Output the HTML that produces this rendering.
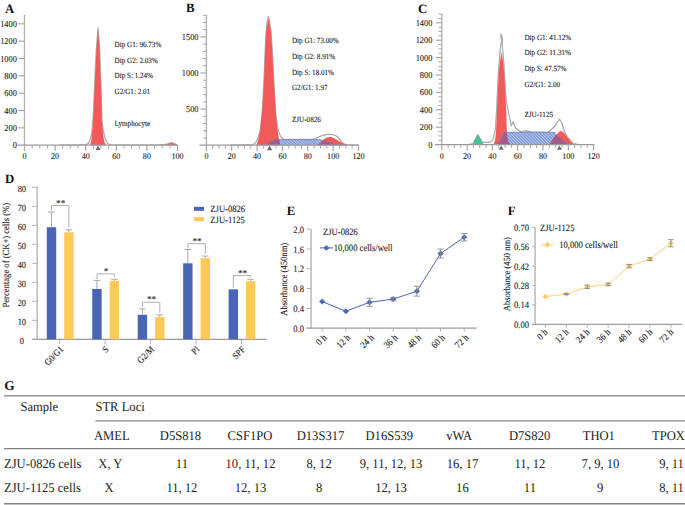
<!DOCTYPE html>
<html><head><meta charset="utf-8"><style>
html,body{margin:0;padding:0;background:#fff;width:685px;height:505px;overflow:hidden}
svg{display:block}
text{font-family:"Liberation Serif", serif; text-rendering:geometricPrecision}
.sm{stroke:#1c1c1c;stroke-width:0.1px}
</style></head><body>
<svg width="685" height="505" viewBox="0 0 685 505">
<rect width="685" height="505" fill="#fff"/>
<defs>
<pattern id="hatch" patternUnits="userSpaceOnUse" width="2.2" height="2.2" patternTransform="rotate(-45)">
<rect width="2.2" height="2.2" fill="#7b93d8"/><rect width="1.0" height="2.2" fill="#bac8f1"/>
</pattern>
<pattern id="hatchp" patternUnits="userSpaceOnUse" width="2.2" height="2.2" patternTransform="rotate(-45)">
<rect width="2.2" height="2.2" fill="#84609e"/><rect width="1.05" height="2.2" fill="#c8587a"/>
</pattern>
</defs>
<text transform="translate(5,12.6) scale(1,1.0)" font-size="12.8" text-anchor="start" font-weight="bold" fill="#111" >A</text>
<text transform="translate(186,12.4) scale(1,1.0)" font-size="12.8" text-anchor="start" font-weight="bold" fill="#111" >B</text>
<text transform="translate(418,13) scale(1,1.0)" font-size="12.8" text-anchor="start" font-weight="bold" fill="#111" >C</text>
<text transform="translate(5,182.6) scale(1,1.0)" font-size="12.8" text-anchor="start" font-weight="bold" fill="#111" >D</text>
<text transform="translate(286.8,215.4) scale(1,1.0)" font-size="12.8" text-anchor="start" font-weight="bold" fill="#111" >E</text>
<text transform="translate(507.8,215.4) scale(1,1.0)" font-size="12.8" text-anchor="start" font-weight="bold" fill="#111" >F</text>
<text transform="translate(4.3,390.2) scale(1,1.0)" font-size="13.3" text-anchor="start" font-weight="bold" fill="#111" >G</text>
<path d="M60,145 L80,144.9 L86.2,144.7 L88.5,143 L90.3,139 L91.8,133 L93,120 L94.2,95 L95.3,70 L96.3,50 L98.1,27.6 L99.7,50 L100.4,70 L101.3,95 L102,120 L103.1,130 L105,138 L107.5,143.4 L110.5,144.8 L130,145 L160,144.8 L166,144.4 L169,143.2 L171.5,142.6 L174,143.4 L177,144.8" fill="none" stroke="#8c8c8c" stroke-width="1.1" stroke-linejoin="round"/>
<path d="M60,145 L80,144.9 L86.2,144.7 L88.5,143 L90.3,139 L91.8,133 L93,120 L94.2,95 L95.3,70 L96.3,50 L98.1,27.6 L99.7,50 L100.4,70 L101.3,95 L102,120 L103.1,130 L105,138 L107.5,143.4 L110.5,144.8 L130,145 L160,144.8 L166,144.4 L169,143.2 L171.5,142.6 L174,143.4 L177,144.8" fill="none" stroke="#fff" stroke-width="0.3" stroke-linejoin="round"/>
<path d="M89.9,145.2 C90.9,143 91.4,141 92.2,132 L93.1,120 L94.3,95 L95.4,70 L96.4,50 L98.1,28.3 L99.6,50 L100.3,70 L101.2,95 L101.9,120 L102.9,132 C103.6,140 104.6,143 106.2,145.2 Z" fill="#f25a5a"/>
<path d="M166,145.2 C166.5,144.93 168.08,143.97 169,143.6 C169.92,143.23 170.67,142.97 171.5,143 C172.33,143.03 173,143.43 174,143.8 C175,144.17 176.92,144.97 177.5,145.2 Z" fill="#f25a5a"/>
<line x1="24.5" y1="14.6" x2="24.5" y2="151.2" stroke="#b4b4b4" stroke-width="1.4"/>
<line x1="17.5" y1="145.2" x2="178.1" y2="145.2" stroke="#9a9a9a" stroke-width="1.3"/>
<text class="sm" transform="translate(16.9,148.2) scale(1,1.08)" font-size="8.4" text-anchor="end" font-weight="normal" fill="#1c1c1c" >0</text>
<line x1="18.5" y1="127.86" x2="24.5" y2="127.86" stroke="#a0a0a0" stroke-width="1.1"/>
<text class="sm" transform="translate(16.9,130.86) scale(1,1.08)" font-size="8.4" text-anchor="end" font-weight="normal" fill="#1c1c1c" >200</text>
<line x1="18.5" y1="110.52" x2="24.5" y2="110.52" stroke="#a0a0a0" stroke-width="1.1"/>
<text class="sm" transform="translate(16.9,113.52) scale(1,1.08)" font-size="8.4" text-anchor="end" font-weight="normal" fill="#1c1c1c" >400</text>
<line x1="18.5" y1="93.18" x2="24.5" y2="93.18" stroke="#a0a0a0" stroke-width="1.1"/>
<text class="sm" transform="translate(16.9,96.18) scale(1,1.08)" font-size="8.4" text-anchor="end" font-weight="normal" fill="#1c1c1c" >600</text>
<line x1="18.5" y1="75.84" x2="24.5" y2="75.84" stroke="#a0a0a0" stroke-width="1.1"/>
<text class="sm" transform="translate(16.9,78.84) scale(1,1.08)" font-size="8.4" text-anchor="end" font-weight="normal" fill="#1c1c1c" >800</text>
<line x1="18.5" y1="58.5" x2="24.5" y2="58.5" stroke="#a0a0a0" stroke-width="1.1"/>
<text class="sm" transform="translate(16.9,61.5) scale(1,1.08)" font-size="8.4" text-anchor="end" font-weight="normal" fill="#1c1c1c" >1000</text>
<line x1="18.5" y1="41.16" x2="24.5" y2="41.16" stroke="#a0a0a0" stroke-width="1.1"/>
<text class="sm" transform="translate(16.9,44.16) scale(1,1.08)" font-size="8.4" text-anchor="end" font-weight="normal" fill="#1c1c1c" >1200</text>
<line x1="18.5" y1="23.82" x2="24.5" y2="23.82" stroke="#a0a0a0" stroke-width="1.1"/>
<text class="sm" transform="translate(16.9,26.82) scale(1,1.08)" font-size="8.4" text-anchor="end" font-weight="normal" fill="#1c1c1c" >1400</text>
<text class="sm" transform="translate(24.5,158.6) scale(1,1.08)" font-size="8.1" text-anchor="middle" font-weight="normal" fill="#1c1c1c" >0</text>
<line x1="32.15" y1="145.2" x2="32.15" y2="148.6" stroke="#a8a8a8" stroke-width="1.0"/>
<line x1="39.8" y1="145.2" x2="39.8" y2="148.6" stroke="#a8a8a8" stroke-width="1.0"/>
<line x1="47.45" y1="145.2" x2="47.45" y2="148.6" stroke="#a8a8a8" stroke-width="1.0"/>
<line x1="55.1" y1="145.2" x2="55.1" y2="151" stroke="#a0a0a0" stroke-width="1.1"/>
<text class="sm" transform="translate(55.1,158.6) scale(1,1.08)" font-size="8.1" text-anchor="middle" font-weight="normal" fill="#1c1c1c" >20</text>
<line x1="62.75" y1="145.2" x2="62.75" y2="148.6" stroke="#a8a8a8" stroke-width="1.0"/>
<line x1="70.4" y1="145.2" x2="70.4" y2="148.6" stroke="#a8a8a8" stroke-width="1.0"/>
<line x1="78.05" y1="145.2" x2="78.05" y2="148.6" stroke="#a8a8a8" stroke-width="1.0"/>
<line x1="85.7" y1="145.2" x2="85.7" y2="151" stroke="#a0a0a0" stroke-width="1.1"/>
<text class="sm" transform="translate(85.7,158.6) scale(1,1.08)" font-size="8.1" text-anchor="middle" font-weight="normal" fill="#1c1c1c" >40</text>
<line x1="93.35" y1="145.2" x2="93.35" y2="148.6" stroke="#a8a8a8" stroke-width="1.0"/>
<line x1="101" y1="145.2" x2="101" y2="148.6" stroke="#a8a8a8" stroke-width="1.0"/>
<line x1="108.65" y1="145.2" x2="108.65" y2="148.6" stroke="#a8a8a8" stroke-width="1.0"/>
<line x1="116.3" y1="145.2" x2="116.3" y2="151" stroke="#a0a0a0" stroke-width="1.1"/>
<text class="sm" transform="translate(116.3,158.6) scale(1,1.08)" font-size="8.1" text-anchor="middle" font-weight="normal" fill="#1c1c1c" >60</text>
<line x1="123.95" y1="145.2" x2="123.95" y2="148.6" stroke="#a8a8a8" stroke-width="1.0"/>
<line x1="131.6" y1="145.2" x2="131.6" y2="148.6" stroke="#a8a8a8" stroke-width="1.0"/>
<line x1="139.25" y1="145.2" x2="139.25" y2="148.6" stroke="#a8a8a8" stroke-width="1.0"/>
<line x1="146.9" y1="145.2" x2="146.9" y2="151" stroke="#a0a0a0" stroke-width="1.1"/>
<text class="sm" transform="translate(146.9,158.6) scale(1,1.08)" font-size="8.1" text-anchor="middle" font-weight="normal" fill="#1c1c1c" >80</text>
<line x1="154.55" y1="145.2" x2="154.55" y2="148.6" stroke="#a8a8a8" stroke-width="1.0"/>
<line x1="162.2" y1="145.2" x2="162.2" y2="148.6" stroke="#a8a8a8" stroke-width="1.0"/>
<line x1="169.85" y1="145.2" x2="169.85" y2="148.6" stroke="#a8a8a8" stroke-width="1.0"/>
<line x1="177.5" y1="145.2" x2="177.5" y2="151" stroke="#a0a0a0" stroke-width="1.1"/>
<text class="sm" transform="translate(177.5,158.6) scale(1,1.08)" font-size="8.1" text-anchor="middle" font-weight="normal" fill="#1c1c1c" >100</text>
<path d="M95.5,150 L98.1,145.6 L100.7,150 Z" fill="#6e6e6e"/>
<text class="sm" transform="translate(114.6,47.3) scale(1,1.12)" font-size="7.1" text-anchor="start" font-weight="normal" fill="#1c1c1c" >Dip G1: 96.73%</text>
<text class="sm" transform="translate(114.6,62.75) scale(1,1.12)" font-size="7.1" text-anchor="start" font-weight="normal" fill="#1c1c1c" >Dip G2: 2.03%</text>
<text class="sm" transform="translate(114.6,78.2) scale(1,1.12)" font-size="7.1" text-anchor="start" font-weight="normal" fill="#1c1c1c" >Dip S: 1.24%</text>
<text class="sm" transform="translate(114.6,93.65) scale(1,1.12)" font-size="7.1" text-anchor="start" font-weight="normal" fill="#1c1c1c" >G2/G1: 2.01</text>
<text class="sm" transform="translate(114.6,126.1) scale(1,1.12)" font-size="7.1" text-anchor="start" font-weight="normal" fill="#1c1c1c" >Lymphocyte</text>
<path d="M230,145 C233.42,144.98 246.5,145.1 250.5,144.9 C254.5,144.7 252.95,144.45 254,143.8 C255.05,143.15 256.05,142.3 256.8,141 C257.55,139.7 257.93,137.83 258.5,136 C259.07,134.17 259.57,134.33 260.2,130 C260.83,125.67 261.67,118.33 262.3,110 C262.93,101.67 263.52,90 264,80 C264.48,70 264.82,58.33 265.2,50 C265.58,41.67 265.78,35.6 266.3,30 C266.82,24.4 267.55,16.4 268.3,16.4 C269.05,16.4 270.15,24.4 270.8,30 C271.45,35.6 271.7,41.67 272.2,50 C272.7,58.33 273.25,70 273.8,80 C274.35,90 275.03,103.33 275.5,110 C275.97,116.67 276.13,116.67 276.6,120 C277.07,123.33 277.7,127.42 278.3,130 C278.9,132.58 279.45,134.03 280.2,135.5 C280.95,136.97 281.83,138.12 282.8,138.8 C283.77,139.48 281.47,139.48 286,139.6 C290.53,139.72 305,139.72 310,139.5 C315,139.28 314.17,138.88 316,138.3 C317.83,137.72 319.33,136.62 321,136 C322.67,135.38 324.17,134.85 326,134.6 C327.83,134.35 330.33,134.3 332,134.5 C333.67,134.7 334.75,135.05 336,135.8 C337.25,136.55 338.42,137.87 339.5,139 C340.58,140.13 341.42,141.65 342.5,142.6 C343.58,143.55 344.75,144.3 346,144.7 C347.25,145.1 348,144.95 350,145 C352,145.05 356.67,145 358,145" fill="none" stroke="#8c8c8c" stroke-width="1.1" stroke-linejoin="round"/>
<path d="M230,145 C233.42,144.98 246.5,145.1 250.5,144.9 C254.5,144.7 252.95,144.45 254,143.8 C255.05,143.15 256.05,142.3 256.8,141 C257.55,139.7 257.93,137.83 258.5,136 C259.07,134.17 259.57,134.33 260.2,130 C260.83,125.67 261.67,118.33 262.3,110 C262.93,101.67 263.52,90 264,80 C264.48,70 264.82,58.33 265.2,50 C265.58,41.67 265.78,35.6 266.3,30 C266.82,24.4 267.55,16.4 268.3,16.4 C269.05,16.4 270.15,24.4 270.8,30 C271.45,35.6 271.7,41.67 272.2,50 C272.7,58.33 273.25,70 273.8,80 C274.35,90 275.03,103.33 275.5,110 C275.97,116.67 276.13,116.67 276.6,120 C277.07,123.33 277.7,127.42 278.3,130 C278.9,132.58 279.45,134.03 280.2,135.5 C280.95,136.97 281.83,138.12 282.8,138.8 C283.77,139.48 281.47,139.48 286,139.6 C290.53,139.72 305,139.72 310,139.5 C315,139.28 314.17,138.88 316,138.3 C317.83,137.72 319.33,136.62 321,136 C322.67,135.38 324.17,134.85 326,134.6 C327.83,134.35 330.33,134.3 332,134.5 C333.67,134.7 334.75,135.05 336,135.8 C337.25,136.55 338.42,137.87 339.5,139 C340.58,140.13 341.42,141.65 342.5,142.6 C343.58,143.55 344.75,144.3 346,144.7 C347.25,145.1 348,144.95 350,145 C352,145.05 356.67,145 358,145" fill="none" stroke="#fff" stroke-width="0.3" stroke-linejoin="round"/>
<path d="M256.5,145.2 C257.5,142.5 258,141 259.2,135 L260.2,130 L262.3,110 L264,80 L265.2,50 L266.3,30 L268.4,17.6 L270.8,30 L272.2,50 L273.8,80 L275.5,110 L277.3,128 L278.6,137 L280.5,145.2 Z" fill="#f25a5a"/>
<path d="M317,145.2 C317.67,144.67 319.67,143.1 321,142 C322.33,140.9 323.53,139.43 325,138.6 C326.47,137.77 328.3,137.07 329.8,137 C331.3,136.93 332.63,137.6 334,138.2 C335.37,138.8 336.67,139.83 338,140.6 C339.33,141.37 340.42,142.03 342,142.8 C343.58,143.57 346.58,144.8 347.5,145.2 Z" fill="#f25a5a"/>
<path d="M262,145.2 C263,144.87 266,144 268,143.2 C270,142.4 272.25,141.02 274,140.4 C275.75,139.78 271.33,139.65 278.5,139.5 C285.67,139.35 309.58,139.33 317,139.5 C324.42,139.67 320.33,139.82 323,140.5 C325.67,141.18 329.33,142.82 333,143.6 C336.67,144.38 343,144.93 345,145.2 Z" fill="url(#hatch)"/>
<clipPath id="rc1"><path d="M256.5,145.2 C257.5,142.5 258,141 259.2,135 L260.2,130 L262.3,110 L264,80 L265.2,50 L266.3,30 L268.4,17.6 L270.8,30 L272.2,50 L273.8,80 L275.5,110 L277.3,128 L278.6,137 L280.5,145.2 Z"/></clipPath>
<path d="M262,145.2 C263,144.87 266,144 268,143.2 C270,142.4 272.25,141.02 274,140.4 C275.75,139.78 271.33,139.65 278.5,139.5 C285.67,139.35 309.58,139.33 317,139.5 C324.42,139.67 320.33,139.82 323,140.5 C325.67,141.18 329.33,142.82 333,143.6 C336.67,144.38 343,144.93 345,145.2 Z" fill="url(#hatchp)" clip-path="url(#rc1)"/>
<clipPath id="rc2"><path d="M317,145.2 C317.67,144.67 319.67,143.1 321,142 C322.33,140.9 323.53,139.43 325,138.6 C326.47,137.77 328.3,137.07 329.8,137 C331.3,136.93 332.63,137.6 334,138.2 C335.37,138.8 336.67,139.83 338,140.6 C339.33,141.37 340.42,142.03 342,142.8 C343.58,143.57 346.58,144.8 347.5,145.2 Z"/></clipPath>
<path d="M262,145.2 C263,144.87 266,144 268,143.2 C270,142.4 272.25,141.02 274,140.4 C275.75,139.78 271.33,139.65 278.5,139.5 C285.67,139.35 309.58,139.33 317,139.5 C324.42,139.67 320.33,139.82 323,140.5 C325.67,141.18 329.33,142.82 333,143.6 C336.67,144.38 343,144.93 345,145.2 Z" fill="url(#hatchp)" clip-path="url(#rc2)"/>
<path d="M268,143.2 C269,142.73 272.25,141.02 274,140.4 C275.75,139.78 271.33,139.65 278.5,139.5 C285.67,139.35 309.58,139.33 317,139.5 C324.42,139.67 320.33,139.82 323,140.5 C325.67,141.18 331.33,143.08 333,143.6" fill="none" stroke="#6d6d8a" stroke-width="0.6"/>
<line x1="206.4" y1="14.7" x2="206.4" y2="151.2" stroke="#b4b4b4" stroke-width="1.4"/>
<line x1="199.4" y1="145.2" x2="359.1" y2="145.2" stroke="#9a9a9a" stroke-width="1.3"/>
<line x1="203.1" y1="137.98" x2="206.4" y2="137.98" stroke="#a8a8a8" stroke-width="1.0"/>
<line x1="203.1" y1="130.76" x2="206.4" y2="130.76" stroke="#a8a8a8" stroke-width="1.0"/>
<line x1="203.1" y1="123.54" x2="206.4" y2="123.54" stroke="#a8a8a8" stroke-width="1.0"/>
<line x1="203.1" y1="116.32" x2="206.4" y2="116.32" stroke="#a8a8a8" stroke-width="1.0"/>
<line x1="200.4" y1="109.1" x2="206.4" y2="109.1" stroke="#a0a0a0" stroke-width="1.1"/>
<text class="sm" transform="translate(198.5,112.1) scale(1,1.08)" font-size="8.4" text-anchor="end" font-weight="normal" fill="#1c1c1c" >500</text>
<line x1="203.1" y1="101.88" x2="206.4" y2="101.88" stroke="#a8a8a8" stroke-width="1.0"/>
<line x1="203.1" y1="94.66" x2="206.4" y2="94.66" stroke="#a8a8a8" stroke-width="1.0"/>
<line x1="203.1" y1="87.44" x2="206.4" y2="87.44" stroke="#a8a8a8" stroke-width="1.0"/>
<line x1="203.1" y1="80.22" x2="206.4" y2="80.22" stroke="#a8a8a8" stroke-width="1.0"/>
<line x1="200.4" y1="73" x2="206.4" y2="73" stroke="#a0a0a0" stroke-width="1.1"/>
<text class="sm" transform="translate(198.5,76) scale(1,1.08)" font-size="8.4" text-anchor="end" font-weight="normal" fill="#1c1c1c" >1000</text>
<line x1="203.1" y1="65.78" x2="206.4" y2="65.78" stroke="#a8a8a8" stroke-width="1.0"/>
<line x1="203.1" y1="58.56" x2="206.4" y2="58.56" stroke="#a8a8a8" stroke-width="1.0"/>
<line x1="203.1" y1="51.34" x2="206.4" y2="51.34" stroke="#a8a8a8" stroke-width="1.0"/>
<line x1="203.1" y1="44.12" x2="206.4" y2="44.12" stroke="#a8a8a8" stroke-width="1.0"/>
<line x1="200.4" y1="36.9" x2="206.4" y2="36.9" stroke="#a0a0a0" stroke-width="1.1"/>
<text class="sm" transform="translate(198.5,39.9) scale(1,1.08)" font-size="8.4" text-anchor="end" font-weight="normal" fill="#1c1c1c" >1500</text>
<line x1="203.1" y1="29.68" x2="206.4" y2="29.68" stroke="#a8a8a8" stroke-width="1.0"/>
<line x1="203.1" y1="22.46" x2="206.4" y2="22.46" stroke="#a8a8a8" stroke-width="1.0"/>
<line x1="203.1" y1="15.24" x2="206.4" y2="15.24" stroke="#a8a8a8" stroke-width="1.0"/>
<text class="sm" transform="translate(206.4,158.6) scale(1,1.08)" font-size="8.1" text-anchor="middle" font-weight="normal" fill="#1c1c1c" >0</text>
<line x1="212.74" y1="145.2" x2="212.74" y2="148.6" stroke="#a8a8a8" stroke-width="1.0"/>
<line x1="219.08" y1="145.2" x2="219.08" y2="148.6" stroke="#a8a8a8" stroke-width="1.0"/>
<line x1="225.41" y1="145.2" x2="225.41" y2="148.6" stroke="#a8a8a8" stroke-width="1.0"/>
<line x1="231.75" y1="145.2" x2="231.75" y2="151" stroke="#a0a0a0" stroke-width="1.1"/>
<text class="sm" transform="translate(231.75,158.6) scale(1,1.08)" font-size="8.1" text-anchor="middle" font-weight="normal" fill="#1c1c1c" >20</text>
<line x1="238.09" y1="145.2" x2="238.09" y2="148.6" stroke="#a8a8a8" stroke-width="1.0"/>
<line x1="244.43" y1="145.2" x2="244.43" y2="148.6" stroke="#a8a8a8" stroke-width="1.0"/>
<line x1="250.76" y1="145.2" x2="250.76" y2="148.6" stroke="#a8a8a8" stroke-width="1.0"/>
<line x1="257.1" y1="145.2" x2="257.1" y2="151" stroke="#a0a0a0" stroke-width="1.1"/>
<text class="sm" transform="translate(257.1,158.6) scale(1,1.08)" font-size="8.1" text-anchor="middle" font-weight="normal" fill="#1c1c1c" >40</text>
<line x1="263.44" y1="145.2" x2="263.44" y2="148.6" stroke="#a8a8a8" stroke-width="1.0"/>
<line x1="269.77" y1="145.2" x2="269.77" y2="148.6" stroke="#a8a8a8" stroke-width="1.0"/>
<line x1="276.11" y1="145.2" x2="276.11" y2="148.6" stroke="#a8a8a8" stroke-width="1.0"/>
<line x1="282.45" y1="145.2" x2="282.45" y2="151" stroke="#a0a0a0" stroke-width="1.1"/>
<text class="sm" transform="translate(282.45,158.6) scale(1,1.08)" font-size="8.1" text-anchor="middle" font-weight="normal" fill="#1c1c1c" >60</text>
<line x1="288.79" y1="145.2" x2="288.79" y2="148.6" stroke="#a8a8a8" stroke-width="1.0"/>
<line x1="295.12" y1="145.2" x2="295.12" y2="148.6" stroke="#a8a8a8" stroke-width="1.0"/>
<line x1="301.46" y1="145.2" x2="301.46" y2="148.6" stroke="#a8a8a8" stroke-width="1.0"/>
<line x1="307.8" y1="145.2" x2="307.8" y2="151" stroke="#a0a0a0" stroke-width="1.1"/>
<text class="sm" transform="translate(307.8,158.6) scale(1,1.08)" font-size="8.1" text-anchor="middle" font-weight="normal" fill="#1c1c1c" >80</text>
<line x1="314.14" y1="145.2" x2="314.14" y2="148.6" stroke="#a8a8a8" stroke-width="1.0"/>
<line x1="320.48" y1="145.2" x2="320.48" y2="148.6" stroke="#a8a8a8" stroke-width="1.0"/>
<line x1="326.81" y1="145.2" x2="326.81" y2="148.6" stroke="#a8a8a8" stroke-width="1.0"/>
<line x1="333.15" y1="145.2" x2="333.15" y2="151" stroke="#a0a0a0" stroke-width="1.1"/>
<text class="sm" transform="translate(333.15,158.6) scale(1,1.08)" font-size="8.1" text-anchor="middle" font-weight="normal" fill="#1c1c1c" >100</text>
<line x1="339.49" y1="145.2" x2="339.49" y2="148.6" stroke="#a8a8a8" stroke-width="1.0"/>
<line x1="345.83" y1="145.2" x2="345.83" y2="148.6" stroke="#a8a8a8" stroke-width="1.0"/>
<line x1="352.16" y1="145.2" x2="352.16" y2="148.6" stroke="#a8a8a8" stroke-width="1.0"/>
<line x1="358.5" y1="145.2" x2="358.5" y2="151" stroke="#a0a0a0" stroke-width="1.1"/>
<text class="sm" transform="translate(358.5,158.6) scale(1,1.08)" font-size="8.1" text-anchor="middle" font-weight="normal" fill="#1c1c1c" >120</text>
<path d="M267.1,150.2 L269.7,145.8 L272.3,150.2 Z" fill="#6e6e6e"/>
<text class="sm" transform="translate(292,43.2) scale(1,1.12)" font-size="7.1" text-anchor="start" font-weight="normal" fill="#1c1c1c" >Dip G1: 73.00%</text>
<text class="sm" transform="translate(292,58.9) scale(1,1.12)" font-size="7.1" text-anchor="start" font-weight="normal" fill="#1c1c1c" >Dip G2: 8.91%</text>
<text class="sm" transform="translate(292,74.6) scale(1,1.12)" font-size="7.1" text-anchor="start" font-weight="normal" fill="#1c1c1c" >Dip S: 18.01%</text>
<text class="sm" transform="translate(292,90.3) scale(1,1.12)" font-size="7.1" text-anchor="start" font-weight="normal" fill="#1c1c1c" >G2/G1: 1.97</text>
<text class="sm" transform="translate(292,122) scale(1,1.12)" font-size="7.1" text-anchor="start" font-weight="normal" fill="#1c1c1c" >ZJU-0826</text>
<path d="M468,144.5 L473,143.8 L477.8,134.6 L482.5,142.2 L488,142.4 L491.5,141.5 L493.5,138 L495.3,130 L496.6,110 L497.5,90 L498.5,70 L499.6,57 L500.2,50 L500.9,44 L501.8,40.5 L500.8,37.5 L501,33.8 L501.6,34.5 L502.6,40 L502.3,46 L503.3,56 L504.3,70 L505.3,90 L506.2,100 L508,110 L510,120 L511.2,126 L513.1,121.5 L515.5,128 L520.5,131.5 L526,130.8 L532,132.4 L548,132.4 L552,129 L555.8,125 L559.3,119 L561.9,123 L563.6,129.5 L567,136.5 L573,143.3 L578,144.5" fill="none" stroke="#8c8c8c" stroke-width="1.1" stroke-linejoin="round"/>
<path d="M468,144.5 L473,143.8 L477.8,134.6 L482.5,142.2 L488,142.4 L491.5,141.5 L493.5,138 L495.3,130 L496.6,110 L497.5,90 L498.5,70 L499.6,57 L500.2,50 L500.9,44 L501.8,40.5 L500.8,37.5 L501,33.8 L501.6,34.5 L502.6,40 L502.3,46 L503.3,56 L504.3,70 L505.3,90 L506.2,100 L508,110 L510,120 L511.2,126 L513.1,121.5 L515.5,128 L520.5,131.5 L526,130.8 L532,132.4 L548,132.4 L552,129 L555.8,125 L559.3,119 L561.9,123 L563.6,129.5 L567,136.5 L573,143.3 L578,144.5" fill="none" stroke="#fff" stroke-width="0.3" stroke-linejoin="round"/>
<path d="M472.5,144.3 C473,143.33 474.62,140.02 475.5,138.5 C476.38,136.98 476.97,135.12 477.8,135.2 C478.63,135.28 479.53,137.48 480.5,139 C481.47,140.52 483.08,143.42 483.6,144.3 Z" fill="#44c596"/>
<path d="M493.6,144.6 C495,141 495.6,138 496.1,130 L497,110 L497.9,90 L498.9,70 L500.2,60 L501.5,52 L502.9,60 L504,70 L505.2,90 L506.2,110 L506.8,130 C507.2,138 508.2,141.5 509.8,144.6 Z" fill="#f25a5a"/>
<path d="M549.5,144.3 C550.08,143.33 551.75,140.22 553,138.5 C554.25,136.78 555.68,135.25 557,134 C558.32,132.75 559.65,131.08 560.9,131 C562.15,130.92 563.32,132.33 564.5,133.5 C565.68,134.67 566.92,136.62 568,138 C569.08,139.38 570.08,140.75 571,141.8 C571.92,142.85 573.08,143.88 573.5,144.3 Z" fill="#f25a5a"/>
<path d="M497,144.3 C497.67,143.33 499.75,140.28 501,138.5 C502.25,136.72 503.33,134.63 504.5,133.6 C505.67,132.57 500.25,132.52 508,132.3 C515.75,132.08 543.17,132.05 551,132.3 C558.83,132.55 553.5,132.85 555,133.8 C556.5,134.75 558.33,136.6 560,138 C561.67,139.4 563.17,141.15 565,142.2 C566.83,143.25 570,143.95 571,144.3 Z" fill="url(#hatch)"/>
<clipPath id="rc3"><path d="M493.6,144.6 C495,141 495.6,138 496.1,130 L497,110 L497.9,90 L498.9,70 L500.2,60 L501.5,52 L502.9,60 L504,70 L505.2,90 L506.2,110 L506.8,130 C507.2,138 508.2,141.5 509.8,144.6 Z"/></clipPath>
<path d="M497,144.3 C497.67,143.33 499.75,140.28 501,138.5 C502.25,136.72 503.33,134.63 504.5,133.6 C505.67,132.57 500.25,132.52 508,132.3 C515.75,132.08 543.17,132.05 551,132.3 C558.83,132.55 553.5,132.85 555,133.8 C556.5,134.75 558.33,136.6 560,138 C561.67,139.4 563.17,141.15 565,142.2 C566.83,143.25 570,143.95 571,144.3 Z" fill="url(#hatchp)" clip-path="url(#rc3)"/>
<clipPath id="rc4"><path d="M549.5,144.3 C550.08,143.33 551.75,140.22 553,138.5 C554.25,136.78 555.68,135.25 557,134 C558.32,132.75 559.65,131.08 560.9,131 C562.15,130.92 563.32,132.33 564.5,133.5 C565.68,134.67 566.92,136.62 568,138 C569.08,139.38 570.08,140.75 571,141.8 C571.92,142.85 573.08,143.88 573.5,144.3 Z"/></clipPath>
<path d="M497,144.3 C497.67,143.33 499.75,140.28 501,138.5 C502.25,136.72 503.33,134.63 504.5,133.6 C505.67,132.57 500.25,132.52 508,132.3 C515.75,132.08 543.17,132.05 551,132.3 C558.83,132.55 553.5,132.85 555,133.8 C556.5,134.75 558.33,136.6 560,138 C561.67,139.4 563.17,141.15 565,142.2 C566.83,143.25 570,143.95 571,144.3 Z" fill="url(#hatchp)" clip-path="url(#rc4)"/>
<path d="M501,138.5 C501.58,137.68 503.33,134.63 504.5,133.6 C505.67,132.57 500.25,132.52 508,132.3 C515.75,132.08 543.17,132.05 551,132.3 C558.83,132.55 553.5,132.85 555,133.8 C556.5,134.75 558.33,136.6 560,138 C561.67,139.4 564.17,141.5 565,142.2" fill="none" stroke="#6d6d8a" stroke-width="0.6"/>
<line x1="441.8" y1="14" x2="441.8" y2="150.6" stroke="#b4b4b4" stroke-width="1.4"/>
<line x1="434.8" y1="144.6" x2="594.2" y2="144.6" stroke="#9a9a9a" stroke-width="1.3"/>
<text class="sm" transform="translate(432.4,147.6) scale(1,1.08)" font-size="8.4" text-anchor="end" font-weight="normal" fill="#1c1c1c" >0</text>
<line x1="438.5" y1="140.25" x2="441.8" y2="140.25" stroke="#a8a8a8" stroke-width="1.0"/>
<line x1="438.5" y1="135.9" x2="441.8" y2="135.9" stroke="#a8a8a8" stroke-width="1.0"/>
<line x1="438.5" y1="131.55" x2="441.8" y2="131.55" stroke="#a8a8a8" stroke-width="1.0"/>
<line x1="435.8" y1="127.2" x2="441.8" y2="127.2" stroke="#a0a0a0" stroke-width="1.1"/>
<text class="sm" transform="translate(432.4,130.2) scale(1,1.08)" font-size="8.4" text-anchor="end" font-weight="normal" fill="#1c1c1c" >200</text>
<line x1="438.5" y1="122.85" x2="441.8" y2="122.85" stroke="#a8a8a8" stroke-width="1.0"/>
<line x1="438.5" y1="118.5" x2="441.8" y2="118.5" stroke="#a8a8a8" stroke-width="1.0"/>
<line x1="438.5" y1="114.15" x2="441.8" y2="114.15" stroke="#a8a8a8" stroke-width="1.0"/>
<line x1="435.8" y1="109.8" x2="441.8" y2="109.8" stroke="#a0a0a0" stroke-width="1.1"/>
<text class="sm" transform="translate(432.4,112.8) scale(1,1.08)" font-size="8.4" text-anchor="end" font-weight="normal" fill="#1c1c1c" >400</text>
<line x1="438.5" y1="105.45" x2="441.8" y2="105.45" stroke="#a8a8a8" stroke-width="1.0"/>
<line x1="438.5" y1="101.1" x2="441.8" y2="101.1" stroke="#a8a8a8" stroke-width="1.0"/>
<line x1="438.5" y1="96.75" x2="441.8" y2="96.75" stroke="#a8a8a8" stroke-width="1.0"/>
<line x1="435.8" y1="92.4" x2="441.8" y2="92.4" stroke="#a0a0a0" stroke-width="1.1"/>
<text class="sm" transform="translate(432.4,95.4) scale(1,1.08)" font-size="8.4" text-anchor="end" font-weight="normal" fill="#1c1c1c" >600</text>
<line x1="438.5" y1="88.05" x2="441.8" y2="88.05" stroke="#a8a8a8" stroke-width="1.0"/>
<line x1="438.5" y1="83.7" x2="441.8" y2="83.7" stroke="#a8a8a8" stroke-width="1.0"/>
<line x1="438.5" y1="79.35" x2="441.8" y2="79.35" stroke="#a8a8a8" stroke-width="1.0"/>
<line x1="435.8" y1="75" x2="441.8" y2="75" stroke="#a0a0a0" stroke-width="1.1"/>
<text class="sm" transform="translate(432.4,78) scale(1,1.08)" font-size="8.4" text-anchor="end" font-weight="normal" fill="#1c1c1c" >800</text>
<line x1="438.5" y1="70.65" x2="441.8" y2="70.65" stroke="#a8a8a8" stroke-width="1.0"/>
<line x1="438.5" y1="66.3" x2="441.8" y2="66.3" stroke="#a8a8a8" stroke-width="1.0"/>
<line x1="438.5" y1="61.95" x2="441.8" y2="61.95" stroke="#a8a8a8" stroke-width="1.0"/>
<line x1="435.8" y1="57.6" x2="441.8" y2="57.6" stroke="#a0a0a0" stroke-width="1.1"/>
<text class="sm" transform="translate(432.4,60.6) scale(1,1.08)" font-size="8.4" text-anchor="end" font-weight="normal" fill="#1c1c1c" >1000</text>
<line x1="438.5" y1="53.25" x2="441.8" y2="53.25" stroke="#a8a8a8" stroke-width="1.0"/>
<line x1="438.5" y1="48.9" x2="441.8" y2="48.9" stroke="#a8a8a8" stroke-width="1.0"/>
<line x1="438.5" y1="44.55" x2="441.8" y2="44.55" stroke="#a8a8a8" stroke-width="1.0"/>
<line x1="435.8" y1="40.2" x2="441.8" y2="40.2" stroke="#a0a0a0" stroke-width="1.1"/>
<text class="sm" transform="translate(432.4,43.2) scale(1,1.08)" font-size="8.4" text-anchor="end" font-weight="normal" fill="#1c1c1c" >1200</text>
<line x1="438.5" y1="35.85" x2="441.8" y2="35.85" stroke="#a8a8a8" stroke-width="1.0"/>
<line x1="438.5" y1="31.5" x2="441.8" y2="31.5" stroke="#a8a8a8" stroke-width="1.0"/>
<line x1="438.5" y1="27.15" x2="441.8" y2="27.15" stroke="#a8a8a8" stroke-width="1.0"/>
<line x1="435.8" y1="22.8" x2="441.8" y2="22.8" stroke="#a0a0a0" stroke-width="1.1"/>
<text class="sm" transform="translate(432.4,25.8) scale(1,1.08)" font-size="8.4" text-anchor="end" font-weight="normal" fill="#1c1c1c" >1400</text>
<line x1="438.5" y1="18.45" x2="441.8" y2="18.45" stroke="#a8a8a8" stroke-width="1.0"/>
<line x1="438.5" y1="14.1" x2="441.8" y2="14.1" stroke="#a8a8a8" stroke-width="1.0"/>
<text class="sm" transform="translate(441.8,158.6) scale(1,1.08)" font-size="8.1" text-anchor="middle" font-weight="normal" fill="#1c1c1c" >0</text>
<line x1="448.12" y1="144.6" x2="448.12" y2="148" stroke="#a8a8a8" stroke-width="1.0"/>
<line x1="454.45" y1="144.6" x2="454.45" y2="148" stroke="#a8a8a8" stroke-width="1.0"/>
<line x1="460.78" y1="144.6" x2="460.78" y2="148" stroke="#a8a8a8" stroke-width="1.0"/>
<line x1="467.1" y1="144.6" x2="467.1" y2="150.4" stroke="#a0a0a0" stroke-width="1.1"/>
<text class="sm" transform="translate(467.1,158.6) scale(1,1.08)" font-size="8.1" text-anchor="middle" font-weight="normal" fill="#1c1c1c" >20</text>
<line x1="473.43" y1="144.6" x2="473.43" y2="148" stroke="#a8a8a8" stroke-width="1.0"/>
<line x1="479.75" y1="144.6" x2="479.75" y2="148" stroke="#a8a8a8" stroke-width="1.0"/>
<line x1="486.07" y1="144.6" x2="486.07" y2="148" stroke="#a8a8a8" stroke-width="1.0"/>
<line x1="492.4" y1="144.6" x2="492.4" y2="150.4" stroke="#a0a0a0" stroke-width="1.1"/>
<text class="sm" transform="translate(492.4,158.6) scale(1,1.08)" font-size="8.1" text-anchor="middle" font-weight="normal" fill="#1c1c1c" >40</text>
<line x1="498.73" y1="144.6" x2="498.73" y2="148" stroke="#a8a8a8" stroke-width="1.0"/>
<line x1="505.05" y1="144.6" x2="505.05" y2="148" stroke="#a8a8a8" stroke-width="1.0"/>
<line x1="511.38" y1="144.6" x2="511.38" y2="148" stroke="#a8a8a8" stroke-width="1.0"/>
<line x1="517.7" y1="144.6" x2="517.7" y2="150.4" stroke="#a0a0a0" stroke-width="1.1"/>
<text class="sm" transform="translate(517.7,158.6) scale(1,1.08)" font-size="8.1" text-anchor="middle" font-weight="normal" fill="#1c1c1c" >60</text>
<line x1="524.02" y1="144.6" x2="524.02" y2="148" stroke="#a8a8a8" stroke-width="1.0"/>
<line x1="530.35" y1="144.6" x2="530.35" y2="148" stroke="#a8a8a8" stroke-width="1.0"/>
<line x1="536.67" y1="144.6" x2="536.67" y2="148" stroke="#a8a8a8" stroke-width="1.0"/>
<line x1="543" y1="144.6" x2="543" y2="150.4" stroke="#a0a0a0" stroke-width="1.1"/>
<text class="sm" transform="translate(543,158.6) scale(1,1.08)" font-size="8.1" text-anchor="middle" font-weight="normal" fill="#1c1c1c" >80</text>
<line x1="549.33" y1="144.6" x2="549.33" y2="148" stroke="#a8a8a8" stroke-width="1.0"/>
<line x1="555.65" y1="144.6" x2="555.65" y2="148" stroke="#a8a8a8" stroke-width="1.0"/>
<line x1="561.98" y1="144.6" x2="561.98" y2="148" stroke="#a8a8a8" stroke-width="1.0"/>
<line x1="568.3" y1="144.6" x2="568.3" y2="150.4" stroke="#a0a0a0" stroke-width="1.1"/>
<text class="sm" transform="translate(568.3,158.6) scale(1,1.08)" font-size="8.1" text-anchor="middle" font-weight="normal" fill="#1c1c1c" >100</text>
<line x1="574.62" y1="144.6" x2="574.62" y2="148" stroke="#a8a8a8" stroke-width="1.0"/>
<line x1="580.95" y1="144.6" x2="580.95" y2="148" stroke="#a8a8a8" stroke-width="1.0"/>
<line x1="587.27" y1="144.6" x2="587.27" y2="148" stroke="#a8a8a8" stroke-width="1.0"/>
<line x1="593.6" y1="144.6" x2="593.6" y2="150.4" stroke="#a0a0a0" stroke-width="1.1"/>
<text class="sm" transform="translate(593.6,158.6) scale(1,1.08)" font-size="8.1" text-anchor="middle" font-weight="normal" fill="#1c1c1c" >120</text>
<path d="M498.6,149.8 L501.2,145.4 L503.8,149.8 Z" fill="#6e6e6e"/>
<path d="M556.8,149.8 L559.4,145.4 L562,149.8 Z" fill="#6e6e6e"/>
<text class="sm" transform="translate(524.5,39.7) scale(1,1.12)" font-size="7.1" text-anchor="start" font-weight="normal" fill="#1c1c1c" >Dip G1: 41.12%</text>
<text class="sm" transform="translate(524.5,55.4) scale(1,1.12)" font-size="7.1" text-anchor="start" font-weight="normal" fill="#1c1c1c" >Dip G2: 11.31%</text>
<text class="sm" transform="translate(524.5,71.1) scale(1,1.12)" font-size="7.1" text-anchor="start" font-weight="normal" fill="#1c1c1c" >Dip S: 47.57%</text>
<text class="sm" transform="translate(524.5,86.8) scale(1,1.12)" font-size="7.1" text-anchor="start" font-weight="normal" fill="#1c1c1c" >G2/G1: 2.00</text>
<text class="sm" transform="translate(524.5,117.2) scale(1,1.12)" font-size="7.1" text-anchor="start" font-weight="normal" fill="#1c1c1c" >ZJU-1125</text>
<line x1="37.2" y1="186.6" x2="37.2" y2="339.3" stroke="#b8b8b8" stroke-width="1.4"/>
<line x1="32.2" y1="339.3" x2="266.5" y2="339.3" stroke="#999" stroke-width="1.3"/>
<line x1="32.2" y1="339.3" x2="37.2" y2="339.3" stroke="#aaa" stroke-width="0.9"/>
<text class="sm" transform="translate(21.8,343.9) scale(1,1.12)" font-size="8.3" text-anchor="middle" font-weight="normal" fill="#1c1c1c" >0</text>
<line x1="32.2" y1="320.3" x2="37.2" y2="320.3" stroke="#aaa" stroke-width="0.9"/>
<text class="sm" transform="translate(21.8,324.9) scale(1,1.12)" font-size="8.3" text-anchor="middle" font-weight="normal" fill="#1c1c1c" >10</text>
<line x1="32.2" y1="301.3" x2="37.2" y2="301.3" stroke="#aaa" stroke-width="0.9"/>
<text class="sm" transform="translate(21.8,305.9) scale(1,1.12)" font-size="8.3" text-anchor="middle" font-weight="normal" fill="#1c1c1c" >20</text>
<line x1="32.2" y1="282.3" x2="37.2" y2="282.3" stroke="#aaa" stroke-width="0.9"/>
<text class="sm" transform="translate(21.8,286.9) scale(1,1.12)" font-size="8.3" text-anchor="middle" font-weight="normal" fill="#1c1c1c" >30</text>
<line x1="32.2" y1="263.3" x2="37.2" y2="263.3" stroke="#aaa" stroke-width="0.9"/>
<text class="sm" transform="translate(21.8,267.9) scale(1,1.12)" font-size="8.3" text-anchor="middle" font-weight="normal" fill="#1c1c1c" >40</text>
<line x1="32.2" y1="244.3" x2="37.2" y2="244.3" stroke="#aaa" stroke-width="0.9"/>
<text class="sm" transform="translate(21.8,248.9) scale(1,1.12)" font-size="8.3" text-anchor="middle" font-weight="normal" fill="#1c1c1c" >50</text>
<line x1="32.2" y1="225.3" x2="37.2" y2="225.3" stroke="#aaa" stroke-width="0.9"/>
<text class="sm" transform="translate(21.8,229.9) scale(1,1.12)" font-size="8.3" text-anchor="middle" font-weight="normal" fill="#1c1c1c" >60</text>
<line x1="32.2" y1="206.3" x2="37.2" y2="206.3" stroke="#aaa" stroke-width="0.9"/>
<text class="sm" transform="translate(21.8,210.9) scale(1,1.12)" font-size="8.3" text-anchor="middle" font-weight="normal" fill="#1c1c1c" >70</text>
<line x1="32.2" y1="187.3" x2="37.2" y2="187.3" stroke="#aaa" stroke-width="0.9"/>
<text class="sm" transform="translate(21.8,191.9) scale(1,1.12)" font-size="8.3" text-anchor="middle" font-weight="normal" fill="#1c1c1c" >80</text>
<rect x="46.8" y="227.2" width="9.4" height="112.1" fill="#4a65b5"/>
<rect x="64.2" y="232.33" width="9.4" height="106.97" fill="#fec956"/>
<line x1="51.5" y1="227.2" x2="51.5" y2="212" stroke="#a0a0a0" stroke-width="0.9"/>
<line x1="48.2" y1="212" x2="54.8" y2="212" stroke="#a0a0a0" stroke-width="0.9"/>
<line x1="68.9" y1="232.33" x2="68.9" y2="229.86" stroke="#a0a0a0" stroke-width="0.9"/>
<line x1="65.6" y1="229.86" x2="72.2" y2="229.86" stroke="#a0a0a0" stroke-width="0.9"/>
<polyline points="51.5,210.5 51.5,205.4 68.9,205.4 68.9,227.46" fill="none" stroke="#b0b0b0" stroke-width="1.0"/>
<text class="sm" transform="translate(60.7,205.5) scale(1,1.0)" font-size="9.2" text-anchor="middle" font-weight="normal" fill="#3a3a3a" >**</text>
<line x1="59.7" y1="339.3" x2="59.7" y2="344.3" stroke="#a0a0a0" stroke-width="0.8"/>
<text class="sm" transform="translate(63.9,349.9) rotate(-45) scale(1,1.12)" font-size="8.3" text-anchor="end" fill="#1c1c1c">G0/G1</text>
<rect x="92.25" y="288.95" width="9.4" height="50.35" fill="#4a65b5"/>
<rect x="109.65" y="280.97" width="9.4" height="58.33" fill="#fec956"/>
<line x1="96.95" y1="288.95" x2="96.95" y2="280.4" stroke="#a0a0a0" stroke-width="0.9"/>
<line x1="93.65" y1="280.4" x2="100.25" y2="280.4" stroke="#a0a0a0" stroke-width="0.9"/>
<line x1="114.35" y1="280.97" x2="114.35" y2="279.26" stroke="#a0a0a0" stroke-width="0.9"/>
<line x1="111.05" y1="279.26" x2="117.65" y2="279.26" stroke="#a0a0a0" stroke-width="0.9"/>
<polyline points="96.95,278.9 96.95,273.9 114.35,273.9 114.35,276.86" fill="none" stroke="#b0b0b0" stroke-width="1.0"/>
<text class="sm" transform="translate(106.15,274) scale(1,1.0)" font-size="9.2" text-anchor="middle" font-weight="normal" fill="#3a3a3a" >*</text>
<line x1="105.15" y1="339.3" x2="105.15" y2="344.3" stroke="#a0a0a0" stroke-width="0.8"/>
<text class="sm" transform="translate(109.35,349.9) rotate(-45) scale(1,1.12)" font-size="8.3" text-anchor="end" fill="#1c1c1c">S</text>
<rect x="137.7" y="314.79" width="9.4" height="24.51" fill="#4a65b5"/>
<rect x="155.1" y="317.07" width="9.4" height="22.23" fill="#fec956"/>
<line x1="142.4" y1="314.79" x2="142.4" y2="308.9" stroke="#a0a0a0" stroke-width="0.9"/>
<line x1="139.1" y1="308.9" x2="145.7" y2="308.9" stroke="#a0a0a0" stroke-width="0.9"/>
<line x1="159.8" y1="317.07" x2="159.8" y2="314.98" stroke="#a0a0a0" stroke-width="0.9"/>
<line x1="156.5" y1="314.98" x2="163.1" y2="314.98" stroke="#a0a0a0" stroke-width="0.9"/>
<polyline points="142.4,307.4 142.4,302.3 159.8,302.3 159.8,312.58" fill="none" stroke="#b0b0b0" stroke-width="1.0"/>
<text class="sm" transform="translate(151.6,302.4) scale(1,1.0)" font-size="9.2" text-anchor="middle" font-weight="normal" fill="#3a3a3a" >**</text>
<line x1="150.6" y1="339.3" x2="150.6" y2="344.3" stroke="#a0a0a0" stroke-width="0.8"/>
<text class="sm" transform="translate(154.8,349.9) rotate(-45) scale(1,1.12)" font-size="8.3" text-anchor="end" fill="#1c1c1c">G2/M</text>
<rect x="183.15" y="263.3" width="9.4" height="76" fill="#4a65b5"/>
<rect x="200.55" y="258.17" width="9.4" height="81.13" fill="#fec956"/>
<line x1="187.85" y1="263.3" x2="187.85" y2="249.43" stroke="#a0a0a0" stroke-width="0.9"/>
<line x1="184.55" y1="249.43" x2="191.15" y2="249.43" stroke="#a0a0a0" stroke-width="0.9"/>
<line x1="205.25" y1="258.17" x2="205.25" y2="256.08" stroke="#a0a0a0" stroke-width="0.9"/>
<line x1="201.95" y1="256.08" x2="208.55" y2="256.08" stroke="#a0a0a0" stroke-width="0.9"/>
<polyline points="187.85,247.93 187.85,243.7 205.25,243.7 205.25,253.68" fill="none" stroke="#b0b0b0" stroke-width="1.0"/>
<text class="sm" transform="translate(197.05,243.8) scale(1,1.0)" font-size="9.2" text-anchor="middle" font-weight="normal" fill="#3a3a3a" >**</text>
<line x1="196.05" y1="339.3" x2="196.05" y2="344.3" stroke="#a0a0a0" stroke-width="0.8"/>
<text class="sm" transform="translate(200.25,349.9) rotate(-45) scale(1,1.12)" font-size="8.3" text-anchor="end" fill="#1c1c1c">PI</text>
<rect x="228.6" y="289.33" width="9.4" height="49.97" fill="#4a65b5"/>
<rect x="246" y="281.16" width="9.4" height="58.14" fill="#fec956"/>
<line x1="250.7" y1="281.16" x2="250.7" y2="279.26" stroke="#a0a0a0" stroke-width="0.9"/>
<line x1="247.4" y1="279.26" x2="254" y2="279.26" stroke="#a0a0a0" stroke-width="0.9"/>
<polyline points="233.3,287.83 233.3,275.6 250.7,275.6 250.7,276.86" fill="none" stroke="#b0b0b0" stroke-width="1.0"/>
<text class="sm" transform="translate(242.5,275.7) scale(1,1.0)" font-size="9.2" text-anchor="middle" font-weight="normal" fill="#3a3a3a" >**</text>
<line x1="241.5" y1="339.3" x2="241.5" y2="344.3" stroke="#a0a0a0" stroke-width="0.8"/>
<text class="sm" transform="translate(245.7,349.9) rotate(-45) scale(1,1.12)" font-size="8.3" text-anchor="end" fill="#1c1c1c">SPF</text>
<rect x="194" y="206.8" width="10" height="4" fill="#4a65b5"/>
<rect x="194" y="217.2" width="10" height="4" fill="#fec956"/>
<text class="sm" transform="translate(210.3,212.4) scale(1,1.12)" font-size="8.6" text-anchor="start" font-weight="normal" fill="#1c1c1c" >ZJU-0826</text>
<text class="sm" transform="translate(210.3,223.2) scale(1,1.12)" font-size="8.6" text-anchor="start" font-weight="normal" fill="#1c1c1c" >ZJU-1125</text>
<text class="sm" transform="translate(8.6,255.2) rotate(-90) scale(1,1.1)" font-size="8.6" text-anchor="middle" fill="#1c1c1c">Percentage of (CK+) cells (%)</text>
<line x1="311.1" y1="229.2" x2="311.1" y2="328.2" stroke="#b5b5b5" stroke-width="1.4"/>
<line x1="306.1" y1="328.2" x2="476.7" y2="328.2" stroke="#9c9c9c" stroke-width="1.3"/>
<text class="sm" transform="translate(304.1,331.8) scale(1,1.12)" font-size="8.6" text-anchor="end" font-weight="normal" fill="#1c1c1c" >0.0</text>
<line x1="306.6" y1="308.4" x2="311.1" y2="308.4" stroke="#aaa" stroke-width="0.9"/>
<text class="sm" transform="translate(304.1,312) scale(1,1.12)" font-size="8.6" text-anchor="end" font-weight="normal" fill="#1c1c1c" >0.4</text>
<line x1="306.6" y1="288.6" x2="311.1" y2="288.6" stroke="#aaa" stroke-width="0.9"/>
<text class="sm" transform="translate(304.1,292.2) scale(1,1.12)" font-size="8.6" text-anchor="end" font-weight="normal" fill="#1c1c1c" >0.8</text>
<line x1="306.6" y1="268.8" x2="311.1" y2="268.8" stroke="#aaa" stroke-width="0.9"/>
<text class="sm" transform="translate(304.1,272.4) scale(1,1.12)" font-size="8.6" text-anchor="end" font-weight="normal" fill="#1c1c1c" >1.2</text>
<line x1="306.6" y1="249" x2="311.1" y2="249" stroke="#aaa" stroke-width="0.9"/>
<text class="sm" transform="translate(304.1,252.6) scale(1,1.12)" font-size="8.6" text-anchor="end" font-weight="normal" fill="#1c1c1c" >1.6</text>
<line x1="306.6" y1="229.2" x2="311.1" y2="229.2" stroke="#aaa" stroke-width="0.9"/>
<text class="sm" transform="translate(304.1,232.8) scale(1,1.12)" font-size="8.6" text-anchor="end" font-weight="normal" fill="#1c1c1c" >2.0</text>
<line x1="322.2" y1="328.2" x2="322.2" y2="331.7" stroke="#aaa" stroke-width="0.9"/>
<text class="sm" transform="translate(327.2,338.2) rotate(-45) scale(1,1.12)" font-size="8.6" text-anchor="end" fill="#1c1c1c">0 h</text>
<line x1="345.87" y1="328.2" x2="345.87" y2="331.7" stroke="#aaa" stroke-width="0.9"/>
<text class="sm" transform="translate(350.87,338.2) rotate(-45) scale(1,1.12)" font-size="8.6" text-anchor="end" fill="#1c1c1c">12 h</text>
<line x1="369.54" y1="328.2" x2="369.54" y2="331.7" stroke="#aaa" stroke-width="0.9"/>
<text class="sm" transform="translate(374.54,338.2) rotate(-45) scale(1,1.12)" font-size="8.6" text-anchor="end" fill="#1c1c1c">24 h</text>
<line x1="393.21" y1="328.2" x2="393.21" y2="331.7" stroke="#aaa" stroke-width="0.9"/>
<text class="sm" transform="translate(398.21,338.2) rotate(-45) scale(1,1.12)" font-size="8.6" text-anchor="end" fill="#1c1c1c">36 h</text>
<line x1="416.88" y1="328.2" x2="416.88" y2="331.7" stroke="#aaa" stroke-width="0.9"/>
<text class="sm" transform="translate(421.88,338.2) rotate(-45) scale(1,1.12)" font-size="8.6" text-anchor="end" fill="#1c1c1c">48 h</text>
<line x1="440.55" y1="328.2" x2="440.55" y2="331.7" stroke="#aaa" stroke-width="0.9"/>
<text class="sm" transform="translate(445.55,338.2) rotate(-45) scale(1,1.12)" font-size="8.6" text-anchor="end" fill="#1c1c1c">60 h</text>
<line x1="464.22" y1="328.2" x2="464.22" y2="331.7" stroke="#aaa" stroke-width="0.9"/>
<text class="sm" transform="translate(469.22,338.2) rotate(-45) scale(1,1.12)" font-size="8.6" text-anchor="end" fill="#1c1c1c">72 h</text>
<polyline points="322.2,301.57 345.87,311.23 369.54,302.32 393.21,299.1 416.88,291.18 440.55,253.56 464.22,237.22" fill="none" stroke="#4a66b8" stroke-width="1.0"/>
<path d="M322.2,298.88 L324.9,301.57 L322.2,304.27 L319.5,301.57 Z" fill="#4a66b8" stroke="#4a66b8" stroke-width="0.6" stroke-linejoin="round"/>
<path d="M345.87,308.53 L348.57,311.23 L345.87,313.93 L343.17,311.23 Z" fill="#4a66b8" stroke="#4a66b8" stroke-width="0.6" stroke-linejoin="round"/>
<path d="M369.54,299.62 L372.24,302.32 L369.54,305.02 L366.84,302.32 Z" fill="#4a66b8" stroke="#4a66b8" stroke-width="0.6" stroke-linejoin="round"/>
<path d="M393.21,296.4 L395.91,299.1 L393.21,301.8 L390.51,299.1 Z" fill="#4a66b8" stroke="#4a66b8" stroke-width="0.6" stroke-linejoin="round"/>
<path d="M416.88,288.48 L419.58,291.18 L416.88,293.88 L414.18,291.18 Z" fill="#4a66b8" stroke="#4a66b8" stroke-width="0.6" stroke-linejoin="round"/>
<path d="M440.55,250.86 L443.25,253.56 L440.55,256.26 L437.85,253.56 Z" fill="#4a66b8" stroke="#4a66b8" stroke-width="0.6" stroke-linejoin="round"/>
<path d="M464.22,234.53 L466.92,237.22 L464.22,239.92 L461.52,237.22 Z" fill="#4a66b8" stroke="#4a66b8" stroke-width="0.6" stroke-linejoin="round"/>
<line x1="369.54" y1="298.36" x2="369.54" y2="306.28" stroke="#8a8a8a" stroke-width="0.9"/>
<line x1="366.34" y1="298.36" x2="372.74" y2="298.36" stroke="#8a8a8a" stroke-width="0.9"/>
<line x1="366.34" y1="306.28" x2="372.74" y2="306.28" stroke="#8a8a8a" stroke-width="0.9"/>
<line x1="393.21" y1="297.37" x2="393.21" y2="300.83" stroke="#8a8a8a" stroke-width="0.9"/>
<line x1="390.01" y1="297.37" x2="396.41" y2="297.37" stroke="#8a8a8a" stroke-width="0.9"/>
<line x1="390.01" y1="300.83" x2="396.41" y2="300.83" stroke="#8a8a8a" stroke-width="0.9"/>
<line x1="416.88" y1="286.23" x2="416.88" y2="296.13" stroke="#8a8a8a" stroke-width="0.9"/>
<line x1="413.68" y1="286.23" x2="420.08" y2="286.23" stroke="#8a8a8a" stroke-width="0.9"/>
<line x1="413.68" y1="296.13" x2="420.08" y2="296.13" stroke="#8a8a8a" stroke-width="0.9"/>
<line x1="440.55" y1="249.1" x2="440.55" y2="258.01" stroke="#8a8a8a" stroke-width="0.9"/>
<line x1="437.35" y1="249.1" x2="443.75" y2="249.1" stroke="#8a8a8a" stroke-width="0.9"/>
<line x1="437.35" y1="258.01" x2="443.75" y2="258.01" stroke="#8a8a8a" stroke-width="0.9"/>
<line x1="464.22" y1="233.51" x2="464.22" y2="240.94" stroke="#8a8a8a" stroke-width="0.9"/>
<line x1="461.02" y1="233.51" x2="467.42" y2="233.51" stroke="#8a8a8a" stroke-width="0.9"/>
<line x1="461.02" y1="240.94" x2="467.42" y2="240.94" stroke="#8a8a8a" stroke-width="0.9"/>
<text class="sm" transform="translate(323,234.7) scale(1,1.12)" font-size="8.6" text-anchor="start" font-weight="normal" fill="#1c1c1c" >ZJU-0826</text>
<line x1="319.9" y1="247.9" x2="333" y2="247.9" stroke="#4a66b8" stroke-width="1.0"/>
<path d="M326.4,245.2 L329.1,247.9 L326.4,250.6 L323.7,247.9 Z" fill="#4a66b8" stroke="#4a66b8" stroke-width="0.6" stroke-linejoin="round"/>
<text class="sm" transform="translate(333.8,250.8) scale(1,1.12)" font-size="8.6" text-anchor="start" font-weight="normal" fill="#1c1c1c" >10,000 cells/well</text>
<text class="sm" transform="translate(287.3,279.3) rotate(-90) scale(1,1.1)" font-size="8.65" text-anchor="middle" fill="#1c1c1c">Absorbance (450nm)</text>
<line x1="535.1" y1="227.3" x2="535.1" y2="324.3" stroke="#b5b5b5" stroke-width="1.4"/>
<line x1="532.1" y1="324.3" x2="682" y2="324.3" stroke="#9c9c9c" stroke-width="1.3"/>
<text class="sm" transform="translate(529.1,327.7) scale(1,1.12)" font-size="8.6" text-anchor="end" font-weight="normal" fill="#1c1c1c" >0.00</text>
<line x1="532.1" y1="304.9" x2="535.1" y2="304.9" stroke="#aaa" stroke-width="0.9"/>
<text class="sm" transform="translate(529.1,308.3) scale(1,1.12)" font-size="8.6" text-anchor="end" font-weight="normal" fill="#1c1c1c" >0.14</text>
<line x1="532.1" y1="285.5" x2="535.1" y2="285.5" stroke="#aaa" stroke-width="0.9"/>
<text class="sm" transform="translate(529.1,288.9) scale(1,1.12)" font-size="8.6" text-anchor="end" font-weight="normal" fill="#1c1c1c" >0.28</text>
<line x1="532.1" y1="266.1" x2="535.1" y2="266.1" stroke="#aaa" stroke-width="0.9"/>
<text class="sm" transform="translate(529.1,269.5) scale(1,1.12)" font-size="8.6" text-anchor="end" font-weight="normal" fill="#1c1c1c" >0.42</text>
<line x1="532.1" y1="246.7" x2="535.1" y2="246.7" stroke="#aaa" stroke-width="0.9"/>
<text class="sm" transform="translate(529.1,250.1) scale(1,1.12)" font-size="8.6" text-anchor="end" font-weight="normal" fill="#1c1c1c" >0.56</text>
<line x1="532.1" y1="227.3" x2="535.1" y2="227.3" stroke="#aaa" stroke-width="0.9"/>
<text class="sm" transform="translate(529.1,230.7) scale(1,1.12)" font-size="8.6" text-anchor="end" font-weight="normal" fill="#1c1c1c" >0.70</text>
<line x1="545.4" y1="324.3" x2="545.4" y2="327.8" stroke="#aaa" stroke-width="0.9"/>
<text class="sm" transform="translate(548.4,332.8) rotate(-45) scale(1,1.12)" font-size="8.6" text-anchor="end" fill="#1c1c1c">0 h</text>
<line x1="566.32" y1="324.3" x2="566.32" y2="327.8" stroke="#aaa" stroke-width="0.9"/>
<text class="sm" transform="translate(569.32,332.8) rotate(-45) scale(1,1.12)" font-size="8.6" text-anchor="end" fill="#1c1c1c">12 h</text>
<line x1="587.24" y1="324.3" x2="587.24" y2="327.8" stroke="#aaa" stroke-width="0.9"/>
<text class="sm" transform="translate(590.24,332.8) rotate(-45) scale(1,1.12)" font-size="8.6" text-anchor="end" fill="#1c1c1c">24 h</text>
<line x1="608.16" y1="324.3" x2="608.16" y2="327.8" stroke="#aaa" stroke-width="0.9"/>
<text class="sm" transform="translate(611.16,332.8) rotate(-45) scale(1,1.12)" font-size="8.6" text-anchor="end" fill="#1c1c1c">36 h</text>
<line x1="629.08" y1="324.3" x2="629.08" y2="327.8" stroke="#aaa" stroke-width="0.9"/>
<text class="sm" transform="translate(632.08,332.8) rotate(-45) scale(1,1.12)" font-size="8.6" text-anchor="end" fill="#1c1c1c">48 h</text>
<line x1="650" y1="324.3" x2="650" y2="327.8" stroke="#aaa" stroke-width="0.9"/>
<text class="sm" transform="translate(653,332.8) rotate(-45) scale(1,1.12)" font-size="8.6" text-anchor="end" fill="#1c1c1c">60 h</text>
<line x1="670.92" y1="324.3" x2="670.92" y2="327.8" stroke="#aaa" stroke-width="0.9"/>
<text class="sm" transform="translate(673.92,332.8) rotate(-45) scale(1,1.12)" font-size="8.6" text-anchor="end" fill="#1c1c1c">72 h</text>
<polyline points="545.4,296.59 566.32,294.09 587.24,286.89 608.16,284.39 629.08,266.1 650,259.17 670.92,243.24" fill="none" stroke="#fdcd66" stroke-width="0.9"/>
<path d="M545.4,293.99 L548,296.59 L545.4,299.19 L542.8,296.59 Z" fill="#fdcd66" stroke="#fdcd66" stroke-width="0.6" stroke-linejoin="round"/>
<path d="M566.32,291.49 L568.92,294.09 L566.32,296.69 L563.72,294.09 Z" fill="#fdcd66" stroke="#fdcd66" stroke-width="0.6" stroke-linejoin="round"/>
<path d="M587.24,284.29 L589.84,286.89 L587.24,289.49 L584.64,286.89 Z" fill="#fdcd66" stroke="#fdcd66" stroke-width="0.6" stroke-linejoin="round"/>
<path d="M608.16,281.79 L610.76,284.39 L608.16,286.99 L605.56,284.39 Z" fill="#fdcd66" stroke="#fdcd66" stroke-width="0.6" stroke-linejoin="round"/>
<path d="M629.08,263.5 L631.68,266.1 L629.08,268.7 L626.48,266.1 Z" fill="#fdcd66" stroke="#fdcd66" stroke-width="0.6" stroke-linejoin="round"/>
<path d="M650,256.57 L652.6,259.17 L650,261.77 L647.4,259.17 Z" fill="#fdcd66" stroke="#fdcd66" stroke-width="0.6" stroke-linejoin="round"/>
<path d="M670.92,240.64 L673.52,243.24 L670.92,245.84 L668.32,243.24 Z" fill="#fdcd66" stroke="#fdcd66" stroke-width="0.6" stroke-linejoin="round"/>
<line x1="566.32" y1="293.54" x2="566.32" y2="294.65" stroke="#8a8a8a" stroke-width="0.9"/>
<line x1="563.52" y1="293.54" x2="569.12" y2="293.54" stroke="#8a8a8a" stroke-width="0.9"/>
<line x1="563.52" y1="294.65" x2="569.12" y2="294.65" stroke="#8a8a8a" stroke-width="0.9"/>
<line x1="587.24" y1="285.22" x2="587.24" y2="288.55" stroke="#8a8a8a" stroke-width="0.9"/>
<line x1="584.44" y1="285.22" x2="590.04" y2="285.22" stroke="#8a8a8a" stroke-width="0.9"/>
<line x1="584.44" y1="288.55" x2="590.04" y2="288.55" stroke="#8a8a8a" stroke-width="0.9"/>
<line x1="608.16" y1="283.14" x2="608.16" y2="285.64" stroke="#8a8a8a" stroke-width="0.9"/>
<line x1="605.36" y1="283.14" x2="610.96" y2="283.14" stroke="#8a8a8a" stroke-width="0.9"/>
<line x1="605.36" y1="285.64" x2="610.96" y2="285.64" stroke="#8a8a8a" stroke-width="0.9"/>
<line x1="629.08" y1="264.44" x2="629.08" y2="267.76" stroke="#8a8a8a" stroke-width="0.9"/>
<line x1="626.28" y1="264.44" x2="631.88" y2="264.44" stroke="#8a8a8a" stroke-width="0.9"/>
<line x1="626.28" y1="267.76" x2="631.88" y2="267.76" stroke="#8a8a8a" stroke-width="0.9"/>
<line x1="650" y1="257.79" x2="650" y2="260.56" stroke="#8a8a8a" stroke-width="0.9"/>
<line x1="647.2" y1="257.79" x2="652.8" y2="257.79" stroke="#8a8a8a" stroke-width="0.9"/>
<line x1="647.2" y1="260.56" x2="652.8" y2="260.56" stroke="#8a8a8a" stroke-width="0.9"/>
<line x1="670.92" y1="239.63" x2="670.92" y2="246.84" stroke="#8a8a8a" stroke-width="0.9"/>
<line x1="668.12" y1="239.63" x2="673.72" y2="239.63" stroke="#8a8a8a" stroke-width="0.9"/>
<line x1="668.12" y1="246.84" x2="673.72" y2="246.84" stroke="#8a8a8a" stroke-width="0.9"/>
<text class="sm" transform="translate(539.9,230.6) scale(1,1.12)" font-size="8.6" text-anchor="start" font-weight="normal" fill="#1c1c1c" >ZJU-1125</text>
<line x1="541" y1="244.7" x2="553.7" y2="244.7" stroke="#fdcd66" stroke-width="0.9"/>
<path d="M547.4,242 L550.1,244.7 L547.4,247.4 L544.7,244.7 Z" fill="#fdcd66" stroke="#fdcd66" stroke-width="0.6" stroke-linejoin="round"/>
<text class="sm" transform="translate(559.2,247.6) scale(1,1.12)" font-size="8.6" text-anchor="start" font-weight="normal" fill="#1c1c1c" >10,000 cells/well</text>
<text class="sm" transform="translate(509.9,274.2) rotate(-90) scale(1,1.1)" font-size="8.5" text-anchor="middle" fill="#1c1c1c">Absorbance (450 nm)</text>
<line x1="4" y1="395.9" x2="685" y2="395.9" stroke="#828282" stroke-width="1.3"/>
<line x1="95.4" y1="420.9" x2="685" y2="420.9" stroke="#828282" stroke-width="1.3"/>
<line x1="4" y1="448.7" x2="685" y2="448.7" stroke="#828282" stroke-width="1.2"/>
<line x1="4" y1="503.7" x2="685" y2="503.7" stroke="#828282" stroke-width="1.6"/>
<text transform="translate(39.3,411.3) scale(1,1.06)" font-size="12.6" text-anchor="middle" font-weight="normal" fill="#222" >Sample</text>
<text transform="translate(95.4,411.3) scale(1,1.06)" font-size="12.6" text-anchor="start" font-weight="normal" fill="#222" >STR Loci</text>
<text transform="translate(111.8,439.5) scale(1,1.06)" font-size="12.6" text-anchor="middle" font-weight="normal" fill="#222" >AMEL</text>
<text transform="translate(110.3,468.3) scale(1,1.06)" font-size="12.6" text-anchor="middle" font-weight="normal" fill="#222" >X, Y</text>
<text transform="translate(109,491.7) scale(1,1.06)" font-size="12.6" text-anchor="middle" font-weight="normal" fill="#222" >X</text>
<text transform="translate(180.5,439.5) scale(1,1.06)" font-size="12.6" text-anchor="middle" font-weight="normal" fill="#222" >D5S818</text>
<text transform="translate(181.9,468.3) scale(1,1.06)" font-size="12.6" text-anchor="middle" font-weight="normal" fill="#222" >11</text>
<text transform="translate(181.9,491.7) scale(1,1.06)" font-size="12.6" text-anchor="middle" font-weight="normal" fill="#222" >11, 12</text>
<text transform="translate(250,439.5) scale(1,1.06)" font-size="12.6" text-anchor="middle" font-weight="normal" fill="#222" >CSF1PO</text>
<text transform="translate(250.5,468.3) scale(1,1.06)" font-size="12.6" text-anchor="middle" font-weight="normal" fill="#222" >10, 11, 12</text>
<text transform="translate(250.5,491.7) scale(1,1.06)" font-size="12.6" text-anchor="middle" font-weight="normal" fill="#222" >12, 13</text>
<text transform="translate(320.5,439.5) scale(1,1.06)" font-size="12.6" text-anchor="middle" font-weight="normal" fill="#222" >D13S317</text>
<text transform="translate(319.1,468.3) scale(1,1.06)" font-size="12.6" text-anchor="middle" font-weight="normal" fill="#222" >8, 12</text>
<text transform="translate(319.1,491.7) scale(1,1.06)" font-size="12.6" text-anchor="middle" font-weight="normal" fill="#222" >8</text>
<text transform="translate(389.3,439.5) scale(1,1.06)" font-size="12.6" text-anchor="middle" font-weight="normal" fill="#222" >D16S539</text>
<text transform="translate(391,468.3) scale(1,1.06)" font-size="12.6" text-anchor="middle" font-weight="normal" fill="#222" >9, 11, 12, 13</text>
<text transform="translate(391,491.7) scale(1,1.06)" font-size="12.6" text-anchor="middle" font-weight="normal" fill="#222" >12, 13</text>
<text transform="translate(459.2,439.5) scale(1,1.06)" font-size="12.6" text-anchor="middle" font-weight="normal" fill="#222" >vWA</text>
<text transform="translate(462.5,468.3) scale(1,1.06)" font-size="12.6" text-anchor="middle" font-weight="normal" fill="#222" >16, 17</text>
<text transform="translate(462.4,491.7) scale(1,1.06)" font-size="12.6" text-anchor="middle" font-weight="normal" fill="#222" >16</text>
<text transform="translate(529.6,439.5) scale(1,1.06)" font-size="12.6" text-anchor="middle" font-weight="normal" fill="#222" >D7S820</text>
<text transform="translate(529.9,468.3) scale(1,1.06)" font-size="12.6" text-anchor="middle" font-weight="normal" fill="#222" >11, 12</text>
<text transform="translate(529.9,491.7) scale(1,1.06)" font-size="12.6" text-anchor="middle" font-weight="normal" fill="#222" >11</text>
<text transform="translate(598.8,439.5) scale(1,1.06)" font-size="12.6" text-anchor="middle" font-weight="normal" fill="#222" >THO1</text>
<text transform="translate(600.5,468.3) scale(1,1.06)" font-size="12.6" text-anchor="middle" font-weight="normal" fill="#222" >7, 9, 10</text>
<text transform="translate(600.2,491.7) scale(1,1.06)" font-size="12.6" text-anchor="middle" font-weight="normal" fill="#222" >9</text>
<text transform="translate(668.5,439.5) scale(1,1.06)" font-size="12.6" text-anchor="middle" font-weight="normal" fill="#222" >TPOX</text>
<text transform="translate(671.5,468.3) scale(1,1.06)" font-size="12.6" text-anchor="middle" font-weight="normal" fill="#222" >9, 11</text>
<text transform="translate(671.5,491.7) scale(1,1.06)" font-size="12.6" text-anchor="middle" font-weight="normal" fill="#222" >8, 11</text>
<text transform="translate(4,468.3) scale(1,1.06)" font-size="12.6" text-anchor="start" font-weight="normal" fill="#222" >ZJU-0826 cells</text>
<text transform="translate(4,491.7) scale(1,1.06)" font-size="12.6" text-anchor="start" font-weight="normal" fill="#222" >ZJU-1125 cells</text>
</svg>
</body></html>
